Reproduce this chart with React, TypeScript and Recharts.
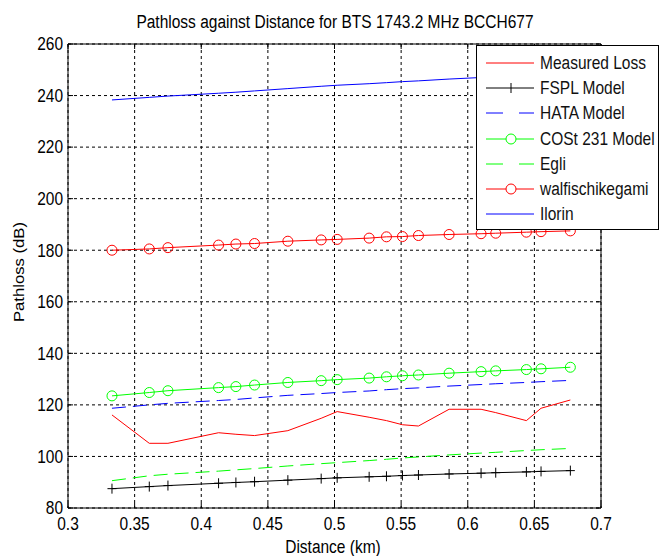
import { LineChart, Line, XAxis, YAxis, CartesianGrid, ReferenceArea } from 'recharts';

const distance = [0.333, 0.361, 0.375, 0.413, 0.426, 0.44, 0.465, 0.49, 0.502, 0.526, 0.539, 0.551, 0.563, 0.586, 0.61, 0.621, 0.644, 0.655, 0.677];
const measuredLoss = [116.1, 105.1, 105.1, 109.2, 108.6, 108.1, 110.0, 114.8, 117.4, 115.2, 113.9, 112.3, 111.8, 118.3, 118.3, 117.0, 113.9, 118.7, 121.9];
const fsplModel = [87.5, 88.3, 88.7, 89.6, 89.9, 90.2, 90.8, 91.4, 91.7, 92.1, 92.3, 92.6, 92.8, 93.2, 93.5, 93.7, 94.0, 94.2, 94.5];
const hataModel = [118.7, 120.0, 120.6, 121.7, 122.1, 122.7, 123.7, 124.4, 124.8, 125.4, 125.9, 126.3, 126.6, 127.3, 127.9, 128.2, 128.7, 129.0, 129.5];
const cost231Model = [123.5, 124.8, 125.5, 126.7, 127.1, 127.7, 128.7, 129.4, 129.8, 130.4, 130.9, 131.3, 131.6, 132.3, 132.9, 133.2, 133.7, 134.0, 134.6];
const egli = [90.6, 92.5, 93.1, 94.3, 94.8, 95.3, 96.3, 97.2, 97.6, 98.4, 98.9, 99.4, 99.8, 100.6, 101.3, 101.6, 102.3, 102.6, 103.1];
const walfisch = [180.0, 180.5, 181.0, 182.0, 182.4, 182.6, 183.5, 184.0, 184.2, 184.7, 185.2, 185.3, 185.7, 186.1, 186.4, 186.6, 187.0, 187.2, 187.5];
const ilorin = [238.3, 239.3, 239.8, 240.9, 241.3, 241.8, 242.7, 243.6, 244.0, 244.6, 245.0, 245.4, 245.7, 246.4, 247.0, 247.3, 247.8, 248.1, 248.6];

const xTicks = [0.3, 0.35, 0.4, 0.45, 0.5, 0.55, 0.6, 0.65, 0.7];
const yTicks = [80, 100, 120, 140, 160, 180, 200, 220, 240, 260];

const data = distance.map((d, i) => ({
  d,
  measured: measuredLoss[i],
  fspl: fsplModel[i],
  hata: hataModel[i],
  cost: cost231Model[i],
  egli: egli[i],
  walfisch: walfisch[i],
  ilorin: ilorin[i],
}));

const FONT = 'Arial, "Liberation Sans", sans-serif';
const FS = 15.5;
const SY = 1.15; // text in the original looks slightly stretched vertically

// plot box (MATLAB axes)
const PLOT = { left: 68, right: 601, top: 44, bottom: 508 };

const circleDot = (color: string) => (props: any) => (
  <circle key={props.index} cx={props.cx} cy={props.cy} r={5} fill="none" stroke={color} strokeWidth={1} />
);

const plusDot = (props: any) => (
  <path
    key={props.index}
    d={`M${props.cx - 4.5},${props.cy}h9M${props.cx},${props.cy - 5}v10`}
    stroke="#000"
    strokeWidth={1}
    fill="none"
  />
);

// x tick: label below plus small inward tick marks top and bottom
const XTick = (props: any) => {
  const { x, payload } = props;
  return (
    <g>
      <line x1={x} y1={PLOT.bottom} x2={x} y2={PLOT.bottom - 5} stroke="#000" />
      <line x1={x} y1={PLOT.top} x2={x} y2={PLOT.top + 5} stroke="#000" />
      <text
        transform={`translate(${x},${PLOT.bottom + 16}) scale(1,${SY})`}
        textAnchor="middle"
        dominantBaseline="central"
        fontSize={FS}
        fontFamily={FONT}
        fill="#000"
      >
        {payload.value}
      </text>
    </g>
  );
};

const YTick = (props: any) => {
  const { y, payload } = props;
  return (
    <g>
      <line x1={PLOT.left} y1={y} x2={PLOT.left + 5} y2={y} stroke="#000" />
      <line x1={PLOT.right} y1={y} x2={PLOT.right - 5} y2={y} stroke="#000" />
      <text
        transform={`translate(${PLOT.left - 5},${y + 0.5}) scale(1,${SY})`}
        textAnchor="end"
        dominantBaseline="central"
        fontSize={FS}
        fontFamily={FONT}
        fill="#000"
      >
        {payload.value}
      </text>
    </g>
  );
};

const legendItems = [
  { name: 'Measured Loss', color: '#ff0000', dash: '', marker: '' },
  { name: 'FSPL Model', color: '#000000', dash: '', marker: 'plus' },
  { name: 'HATA Model', color: '#0000ff', dash: '17 16', marker: '' },
  { name: 'COSt 231 Model', color: '#00ff00', dash: '', marker: 'circle' },
  { name: 'Egli', color: '#00ff00', dash: '17 16', marker: '' },
  { name: 'walfischikegami', color: '#ff0000', dash: '', marker: 'circle' },
  { name: 'Ilorin', color: '#0000ff', dash: '', marker: '' },
];

function LegendBox() {
  return (
    <div
      style={{
        position: 'absolute',
        left: 476,
        top: 45,
        width: 183,
        height: 185,
        background: '#fff',
        border: '1px solid #000',
        boxSizing: 'border-box',
        fontFamily: FONT,
        fontSize: FS,
        color: '#111',
      }}
    >
      {legendItems.map((it, i) => (
        <div
          key={it.name}
          style={{ position: 'absolute', left: 0, top: 17 + 25.2 * i - 10, height: 20, display: 'flex', alignItems: 'center' }}
        >
          <svg width={63} height={20} style={{ flex: 'none' }}>
            <line x1={9} y1={10} x2={57} y2={10} stroke={it.color} strokeDasharray={it.dash || undefined} />
            {it.marker === 'circle' && <circle cx={34} cy={10} r={5} fill="#fff" stroke={it.color} />}
            {it.marker === 'plus' && <path d="M34,5v10" stroke={it.color} />}
          </svg>
          <span style={{ whiteSpace: 'nowrap', display: 'inline-block', transform: `scaleY(${SY})`, lineHeight: '20px' }}>
            {it.name}
          </span>
        </div>
      ))}
    </div>
  );
}

export default function App() {
  return (
    <div style={{ position: 'absolute', left: 0, top: 0, width: 664, height: 556, background: '#fff', fontFamily: FONT }}>
      <div
        style={{
          position: 'absolute',
          top: 12.5,
          left: 35,
          width: 600,
          height: 18,
          lineHeight: '18px',
          textAlign: 'center',
          fontSize: FS,
          color: '#000',
          whiteSpace: 'nowrap',
          transform: `scaleY(${SY})`,
        }}
      >
        Pathloss against Distance for BTS 1743.2 MHz BCCH677
      </div>
      <LineChart width={664} height={556} data={data} margin={{ top: 44, right: 63, bottom: 0, left: 0 }}>
        <CartesianGrid stroke="#000" strokeDasharray="3 3" />
        <XAxis
          dataKey="d"
          type="number"
          domain={[0.3, 0.7]}
          ticks={xTicks}
          tickLine={false}
          axisLine={false}
          tickSize={0}
          tickMargin={0}
          height={48}
          tick={XTick}
        />
        <YAxis
          type="number"
          domain={[80, 260]}
          ticks={yTicks}
          tickLine={false}
          axisLine={false}
          tickSize={0}
          tickMargin={0}
          width={68}
          tick={YTick}
        />
        <ReferenceArea x1={0.3} x2={0.7} y1={80} y2={260} fill="none" stroke="#000" strokeWidth={1} ifOverflow="extendDomain" />
        <Line dataKey="measured" stroke="#ff0000" strokeWidth={1} dot={false} isAnimationActive={false} />
        <Line dataKey="fspl" stroke="#000" strokeWidth={1} dot={plusDot} isAnimationActive={false} />
        <Line dataKey="hata" stroke="#0000ff" strokeWidth={1} strokeDasharray="14 7" dot={false} isAnimationActive={false} />
        <Line dataKey="cost" stroke="#00ff00" strokeWidth={1} dot={circleDot('#00ff00')} isAnimationActive={false} />
        <Line dataKey="egli" stroke="#00ff00" strokeWidth={1} strokeDasharray="14 7" dot={false} isAnimationActive={false} />
        <Line dataKey="walfisch" stroke="#ff0000" strokeWidth={1} dot={circleDot('#ff0000')} isAnimationActive={false} />
        <Line dataKey="ilorin" stroke="#0000ff" strokeWidth={1} dot={false} isAnimationActive={false} />
      </LineChart>
      <div
        style={{
          position: 'absolute',
          top: 537.5,
          left: 233,
          width: 200,
          height: 18,
          lineHeight: '18px',
          textAlign: 'center',
          fontSize: FS,
          color: '#000',
          transform: `scaleY(${SY})`,
        }}
      >
        Distance (km)
      </div>
      <div
        style={{
          position: 'absolute',
          top: 262.7,
          left: -81.3,
          width: 200,
          height: 18,
          lineHeight: '18px',
          textAlign: 'center',
          fontSize: 14.5,
          color: '#000',
          transform: `rotate(-90deg) scaleX(${SY})`,
        }}
      >
        Pathloss (dB)
      </div>
      <LegendBox />
    </div>
  );
}
